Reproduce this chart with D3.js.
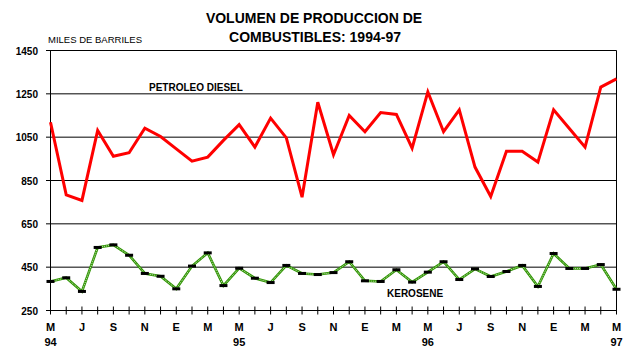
<!DOCTYPE html>
<html>
<head>
<meta charset="utf-8">
<script src="https://cdn.jsdelivr.net/npm/d3@7"></script>
<style>
  html, body { margin: 0; padding: 0; background: #fff; }
  svg { display: block; font-family: "Liberation Sans", Arial, sans-serif; }
</style>
</head>
<body>
<svg id="chart" width="638" height="358"></svg>
<script>
// Months May 1994 .. May 1997 (Spanish initials)
const months = ["M","J","J","A","S","O","N","D","E","F","M","A",
                "M","J","J","A","S","O","N","D","E","F","M","A",
                "M","J","J","A","S","O","N","D","E","F","M","A","M"];
const yearLabels = [{i: 0, t: "94"}, {i: 12, t: "95"}, {i: 24, t: "96"}, {i: 36, t: "97"}];
const yTicks = [250, 450, 650, 850, 1050, 1250, 1450];

const diesel = [1119, 784, 758, 1081, 962, 978, 1091, 1053, 996, 939, 958, 1035,
                1108, 1004, 1138, 1047, 773, 1211, 969, 1150, 1075, 1164, 1155, 999,
                1259, 1075, 1176, 912, 776, 985, 985, 935, 1176, 1090, 1004, 1281, 1319];
const kerosene = [384, 401, 338, 541, 553, 505, 421, 408, 350, 455, 516, 365,
                  445, 399, 379, 458, 421, 416, 425, 475, 387, 384, 438, 381,
                  427, 475, 393, 442, 407, 430, 458, 361, 513, 444, 444, 462, 348];

const svg = d3.select("#chart");
const x = d3.scaleLinear().domain([0, 36]).range([50.5, 616.5]);
const y = d3.scaleLinear().domain([250, 1450]).range([310.5, 50.5]);

// Title
const title = svg.append("g").attr("font-weight", "bold").attr("font-size", 14)
  .attr("text-anchor", "middle");
title.append("text").attr("x", 314).attr("y", 23).text("VOLUMEN DE PRODUCCION DE");
title.append("text").attr("x", 315).attr("y", 42).text("COMBUSTIBLES: 1994-97");

svg.append("text").attr("x", 48).attr("y", 43).attr("font-size", 9.5)
  .text("MILES DE BARRILES");

// Gridlines (extend left past axis like tick marks)
svg.append("g").selectAll("line").data(yTicks).join("line")
  .attr("x1", 46).attr("x2", x(36))
  .attr("y1", d => y(d)).attr("y2", d => y(d))
  .attr("stroke", "#000").attr("stroke-width", 1);

// Y labels
svg.append("g").attr("font-weight", "bold").attr("font-size", 10).attr("text-anchor", "end")
  .selectAll("text").data(yTicks).join("text")
  .attr("x", 38).attr("y", d => y(d) + 4).text(d => d);

// Axes lines
svg.append("line").attr("x1", x(0)).attr("x2", x(0)).attr("y1", y(1450)).attr("y2", y(250))
  .attr("stroke", "#000");
svg.append("line").attr("x1", x(36)).attr("x2", x(36)).attr("y1", y(1450)).attr("y2", y(250))
  .attr("stroke", "#000");

// X ticks every month crossing axis
svg.append("g").selectAll("line").data(months).join("line")
  .attr("x1", (d, i) => x(i)).attr("x2", (d, i) => x(i))
  .attr("y1", y(250) - 4).attr("y2", y(250) + 4)
  .attr("stroke", "#000");

// X labels every two months
svg.append("g").attr("font-weight", "bold").attr("font-size", 11).attr("text-anchor", "middle")
  .selectAll("text").data(months.map((m, i) => ({m, i})).filter(d => d.i % 2 === 0)).join("text")
  .attr("x", d => x(d.i)).attr("y", 331).text(d => d.m);
svg.append("g").attr("font-weight", "bold").attr("font-size", 11).attr("text-anchor", "middle")
  .selectAll("text").data(yearLabels).join("text")
  .attr("x", d => x(d.i)).attr("y", 346).text(d => d.t);

const line = d3.line().x((d, i) => x(i)).y(d => y(d));

// Diesel
svg.append("path").datum(diesel).attr("d", line)
  .attr("fill", "none").attr("stroke", "#ff0000").attr("stroke-width", 3)
  .attr("stroke-linejoin", "miter");

// Kerosene (checkered green line)
svg.append("path").datum(kerosene).attr("d", line)
  .attr("fill", "none").attr("stroke", "#2e9400").attr("stroke-width", 2.6);
svg.append("path").datum(kerosene).attr("d", line)
  .attr("fill", "none").attr("stroke", "#ffffff").attr("stroke-width", 1)
  .attr("stroke-dasharray", "1,1").attr("opacity", 0.75);

// Kerosene markers
svg.append("g").selectAll("rect").data(kerosene).join("rect")
  .attr("x", (d, i) => x(i) - 4).attr("y", d => y(d) - 1.5)
  .attr("width", 8).attr("height", 3).attr("fill", "#000");

// Series labels
svg.append("text").attr("x", 149).attr("y", 91).attr("font-weight", "bold").attr("font-size", 10)
  .text("PETROLEO DIESEL");
svg.append("text").attr("x", 387).attr("y", 297).attr("font-weight", "bold").attr("font-size", 10)
  .text("KEROSENE");
</script>
</body>
</html>
